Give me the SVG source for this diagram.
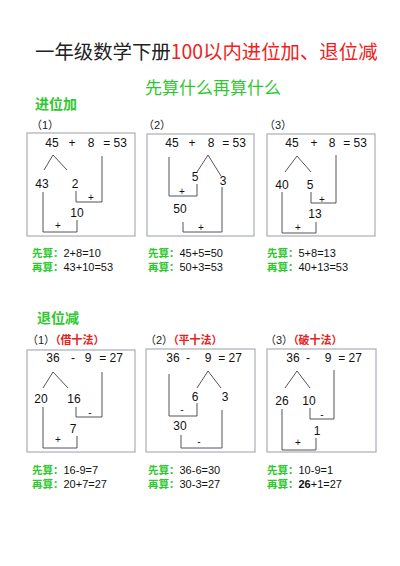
<svg xmlns="http://www.w3.org/2000/svg" width="400" height="566" viewBox="0 0 400 566">
<style>
.bg{fill:#ffffff}
.title{font-family:"Noto Sans CJK SC","Noto Sans",sans-serif;font-size:19.4px}
.sub{font-family:"Noto Sans CJK SC",sans-serif;font-size:17px;fill:#2ec82e}
.sec{font-family:"Noto Sans CJK SC",sans-serif;font-size:14px;font-weight:bold;fill:#2ec82e}
.lbl{font-family:"Liberation Sans","Noto Sans CJK SC",sans-serif;font-size:11px;fill:#222}
.red{font-family:"Noto Sans CJK SC",sans-serif;font-size:11px;font-weight:bold;fill:#e82020}
.box{fill:none;stroke:#a8aeb4;stroke-width:1.2}
.n{font-family:"Liberation Sans",Arial,sans-serif;font-size:12px;fill:#111;text-anchor:middle}
.op{font-family:"Liberation Sans",Arial,sans-serif;font-size:10px;fill:#111;text-anchor:middle}
.ln{fill:none;stroke:#555;stroke-width:1}
.g{font-family:"Noto Sans CJK SC",sans-serif;font-size:10.5px;font-weight:bold;fill:#2ec82e}
.k{font-family:"Liberation Sans",Arial,sans-serif;font-size:11px;fill:#111}
</style>
<rect class="bg" x="0" y="0" width="400" height="566"/>
<text class="title" x="35" y="59"><tspan fill="#222">一年级数学下册</tspan><tspan fill="#f22020">100以内进位加、退位减</tspan></text>
<text class="sub" x="145" y="94">先算什么再算什么</text>
<text class="sec" x="35" y="109">进位加</text>
<text class="sec" x="37" y="323">退位减</text>

<g id="add1">
<text class="lbl" x="31" y="129">（1）</text>
<rect class="box" x="27" y="133" width="108" height="103"/>
<text class="n" x="52" y="147">45</text><text class="n" x="72" y="147">+</text><text class="n" x="91" y="147">8</text><text class="n" x="115" y="147">= 53</text>
<text class="n" x="42" y="188">43</text><text class="n" x="75" y="188">2</text>
<text class="n" x="77" y="217">10</text>
<text class="op" x="91" y="201">+</text><text class="op" x="58" y="229">+</text>
</g>
<g id="add2">
<text class="lbl" x="143" y="129">（2）</text>
<rect class="box" x="147" y="134" width="107" height="102"/>
<text class="n" x="172" y="147">45</text><text class="n" x="192" y="147">+</text><text class="n" x="211" y="147">8</text><text class="n" x="234" y="147">= 53</text>
<text class="n" x="195" y="181">5</text><text class="n" x="223" y="185">3</text>
<text class="n" x="180" y="213">50</text>
<text class="op" x="182" y="195">+</text><text class="op" x="201" y="231">+</text>
</g>
<g id="add3">
<text class="lbl" x="264" y="129">（3）</text>
<rect class="box" x="267" y="134" width="108" height="102"/>
<text class="n" x="292" y="147">45</text><text class="n" x="314" y="147">+</text><text class="n" x="332" y="147">8</text><text class="n" x="355" y="147">= 53</text>
<text class="n" x="282" y="189">40</text><text class="n" x="310" y="189">5</text>
<text class="n" x="315" y="218">13</text>
<text class="op" x="322" y="203">+</text><text class="op" x="298" y="231">+</text>
</g>

<g id="sub1">
<text class="lbl" x="27" y="344">（1）<tspan class="red">（借十法）</tspan></text>
<rect class="box" x="27" y="350" width="108" height="102"/>
<text class="n" x="53" y="362">36</text><text class="n" x="73" y="362">-</text><text class="n" x="88" y="362">9</text><text class="n" x="111" y="362">= 27</text>
<text class="n" x="41" y="403">20</text><text class="n" x="74" y="403">16</text>
<text class="n" x="73" y="433">7</text>
<text class="op" x="90" y="416">-</text><text class="op" x="58" y="443">+</text>
</g>
<g id="sub2">
<text class="lbl" x="145" y="344">（2）<tspan class="red">（平十法）</tspan></text>
<rect class="box" x="146" y="349" width="109" height="103"/>
<text class="n" x="173" y="362">36</text><text class="n" x="188" y="362">-</text><text class="n" x="208" y="362">9</text><text class="n" x="230" y="362">= 27</text>
<text class="n" x="195" y="401">6</text><text class="n" x="225" y="401">3</text>
<text class="n" x="180" y="430">30</text>
<text class="op" x="182" y="413">-</text><text class="op" x="199" y="445">-</text>
</g>
<g id="sub3">
<text class="lbl" x="265" y="344">（3）<tspan class="red">（破十法）</tspan></text>
<rect class="box" x="267" y="349" width="109" height="103"/>
<text class="n" x="293" y="362">36</text><text class="n" x="308" y="362">-</text><text class="n" x="328" y="362">9</text><text class="n" x="350" y="362">= 27</text>
<text class="n" x="282" y="405">26</text><text class="n" x="309" y="405">10</text>
<text class="n" x="317" y="435">1</text>
<text class="op" x="322" y="418">-</text><text class="op" x="298" y="446">+</text>
</g>

<g id="connectors">
<polyline class="ln" points="44,170 53,155 67,170"/>
<polyline class="ln" points="76,191 76,202 102,202 102,156"/>
<polyline class="ln" points="43,192 43,232 77,232 77,220"/>

<polyline class="ln" points="197,172 208,155 221,176"/>
<polyline class="ln" points="169,157 169,196 197,196 197,184"/>
<polyline class="ln" points="183,222 183,232 222,232 222,187"/>

<polyline class="ln" points="285,172 297,156 311,172"/>
<polyline class="ln" points="311,192 311,203 336,203 336,155"/>
<polyline class="ln" points="282,192 282,233 316,233 316,222"/>

<polyline class="ln" points="43,388 53,372 68,388"/>
<polyline class="ln" points="76,407 76,417 102,417 102,372"/>
<polyline class="ln" points="43,407 43,448 77,448 77,436"/>

<polyline class="ln" points="197,388 208,371 221,388"/>
<polyline class="ln" points="169,374 169,416 197,416 197,403"/>
<polyline class="ln" points="181,435 181,448 222,448 222,410"/>

<polyline class="ln" points="285,388 297,371 310,388"/>
<polyline class="ln" points="310,408 310,419 334,419 334,370"/>
<polyline class="ln" points="282,409 282,450 316,450 316,438"/>
</g>

<g id="notes">
<text x="32" y="257"><tspan class="g">先算：</tspan><tspan class="k">2+8=10</tspan></text>
<text x="32" y="271"><tspan class="g">再算：</tspan><tspan class="k">43+10=53</tspan></text>
<text x="148" y="257"><tspan class="g">先算：</tspan><tspan class="k">45+5=50</tspan></text>
<text x="148" y="271"><tspan class="g">再算：</tspan><tspan class="k">50+3=53</tspan></text>
<text x="267" y="257"><tspan class="g">先算：</tspan><tspan class="k">5+8=13</tspan></text>
<text x="267" y="271"><tspan class="g">再算：</tspan><tspan class="k">40+13=53</tspan></text>
<text x="32" y="474"><tspan class="g">先算：</tspan><tspan class="k">16-9=7</tspan></text>
<text x="32" y="488"><tspan class="g">再算：</tspan><tspan class="k">20+7=27</tspan></text>
<text x="148" y="474"><tspan class="g">先算：</tspan><tspan class="k">36-6=30</tspan></text>
<text x="148" y="488"><tspan class="g">再算：</tspan><tspan class="k">30-3=27</tspan></text>
<text x="267" y="474"><tspan class="g">先算：</tspan><tspan class="k">10-9=1</tspan></text>
<text x="267" y="488"><tspan class="g">再算：</tspan><tspan class="k" font-weight="bold">26</tspan><tspan class="k">+1=27</tspan></text>
</g>
</svg>
